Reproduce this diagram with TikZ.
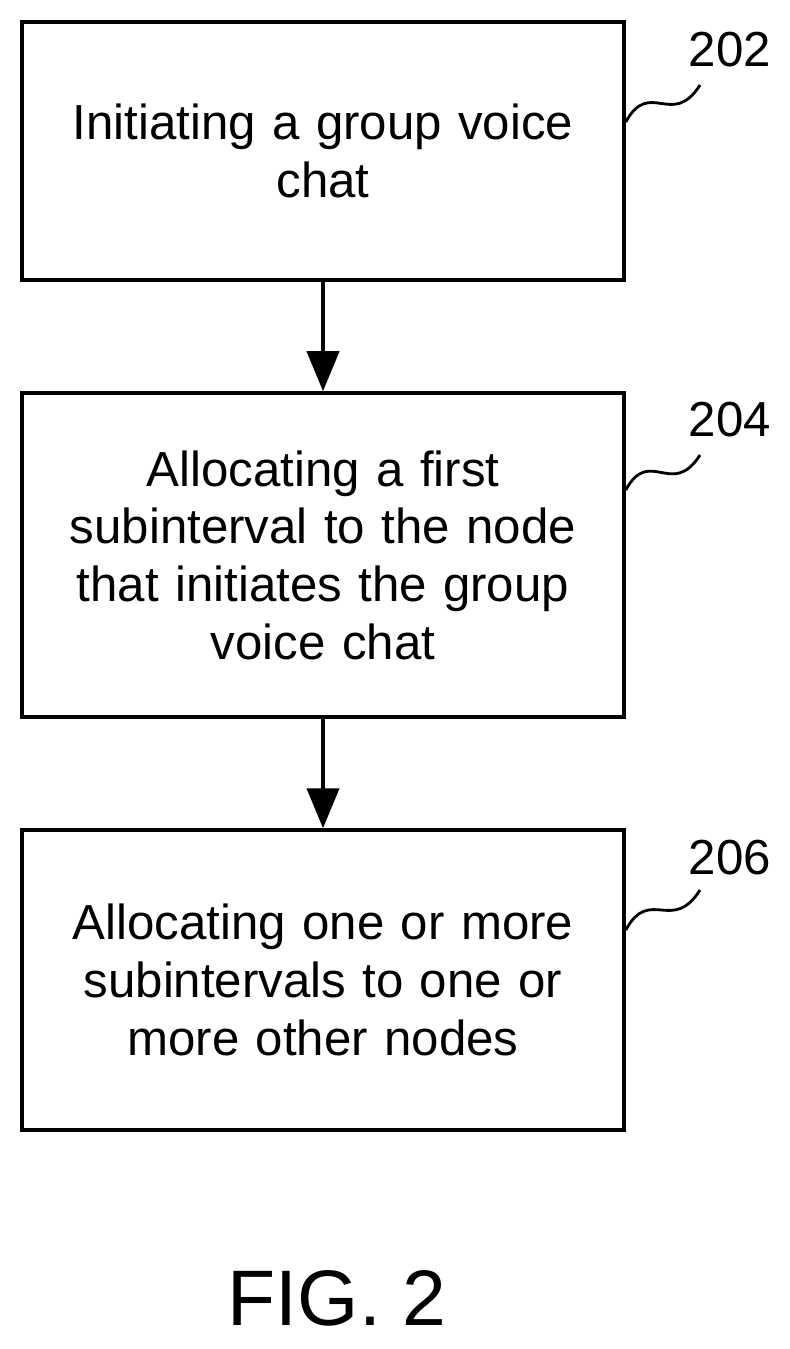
\documentclass[tikz,border=0pt]{standalone}
\usepackage{fontspec}
\setmainfont{Liberation Sans}
\usetikzlibrary{arrows.meta,positioning}
\begin{document}
\begin{tikzpicture}
  \tikzset{step node/.style={rectangle, draw, line width=2.5pt,
		minimum width=15.05cm, align=center, text width=13.5cm,
		font=\fontsize{35}{41}\selectfont}, }
\tikzset{ref node/.style={font=\fontsize{35}{41}\selectfont}, }
\tikzset{linea/.style={line width=3pt,-{Triangle[length=1cm,width=0.8cm]}},}
\tikzset{squiggle/.style={line width=2pt},}
\useasboundingbox (0,0) rectangle (19.75,-33.725);
    \node[step node, minimum height=6.45cm] (202) at (8.075,-3.775) {Initiating a group voice\\chat};
    \node[step node, minimum height=8.1cm] (204) at (8.075,-13.875) {Allocating a first\\subinterval to the node\\that initiates the group\\voice chat};
    \node[step node, minimum height=7.5cm] (206) at (8.075,-24.5) {Allocating one or more\\subintervals to one or\\more other nodes};
   \node[ref node] (l202) at (18.25,-1.25) {202};
   \node[ref node] (l204) at (18.25,-10.5) {204};
   \node[ref node] (l206) at (18.25,-21.45) {206};
   \node[font=\fontsize{56}{64}\selectfont] (fig) at (8.43,-32.45) {FIG. 2};
%
\coordinate (e202) at (17.5,-2.125);
\coordinate (e204) at (17.5,-11.375);
\coordinate (e206) at (17.5,-22.25);
\foreach \x /\y in{202/0.725,204/1.625,206/1.25}
  \draw[squiggle] ([yshift=\y cm]\x.east) .. controls +(0.6,1.1) and +(-0.7,-1.1) .. (e\x);
%
\foreach \x /\y in{202/204,204/206}
  \draw[linea] (\x) -- (\y);
%
\end{tikzpicture}
\end{document}
